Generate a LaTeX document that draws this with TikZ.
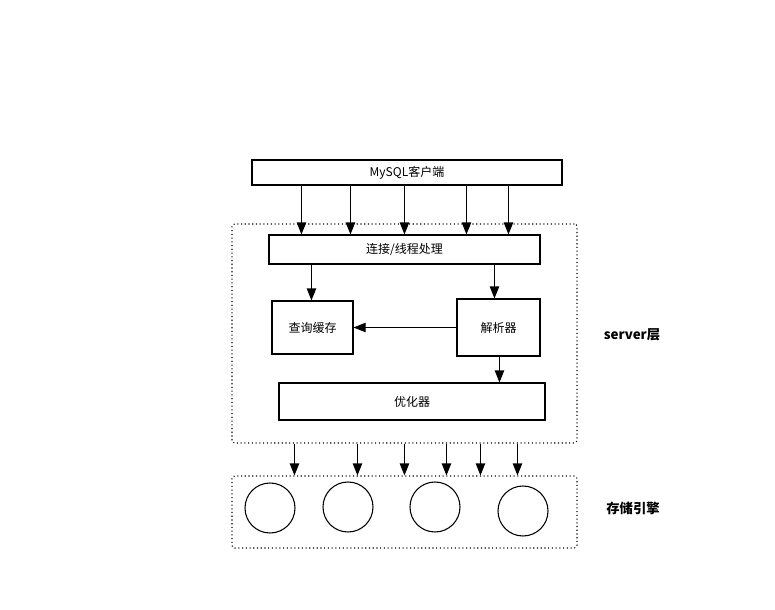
\documentclass[tikz,border=0pt]{standalone}
\usepackage{fontspec}
\setmainfont{Noto Sans CJK SC}
\usetikzlibrary{arrows.meta,positioning,calc}
\tikzset{
  box/.style={draw,thick,minimum height=#1,inner sep=0pt,font=\small},
  zone/.style={draw,thick,dotted,rounded corners=2pt,inner sep=0pt},
  arr/.style={thick,-{Triangle[length=9pt,width=7pt]}},
  layer/.style={font=\bfseries}
}
\begin{document}
\begin{tikzpicture}[x=0.75pt,y=-0.75pt]
\useasboundingbox (0,0) rectangle (775,610);
% server layer
\node[zone,minimum width=345*0.75pt,minimum height=219*0.75pt] (server) at (404.5,333.5) {};
\node[zone,minimum width=345*0.75pt,minimum height=72*0.75pt] (store) at (404.5,512) {};
\node[box=25*0.75pt,minimum width=310*0.75pt] (client) at (407,172.5) {MySQL客户端};
\node[box=29*0.75pt,minimum width=271*0.75pt] (conn) at (404.5,249.5) {连接/线程处理};
\node[box=53*0.75pt,minimum width=81*0.75pt] (cache) at (312.5,327.5) {查询缓存};
\node[box=57*0.75pt,minimum width=83*0.75pt] (parser) at (498.5,327.5) {解析器};
\node[box=37*0.75pt,minimum width=266*0.75pt] (opt) at (412,401.5) {优化器};
\node[layer] (slabel) at (632,335) {server层};
\node[layer] (elabel) at (633,508) {存储引擎};
% engines
\foreach \n/\cx/\cy in {e1/270/508, e2/348/507, e3/435/507, e4/523/511}
  \node[draw,thick,circle,minimum size=50*0.75pt] (\n) at (\cx,\cy) {};
% client -> connection
\foreach \x in {50,99,153,215,257} {
  \coordinate (t) at ($(client.south west)+(\x,0)$);
  \draw[arr] (t) -- (t |- conn.north);
}
\coordinate (t) at ($(conn.south west)+(43,0)$);
\draw[arr] (t) -- (t |- cache.north);
\coordinate (t) at ($(conn.south west)+(226,0)$);
\draw[arr] (t) -- (t |- parser.north);
\draw[arr] (parser.west) -- (cache.east);
\coordinate (t) at ($(parser.south west)+(43,0)$);
\draw[arr] (t) -- (t |- opt.north);
% server -> storage
\foreach \x in {63,126,173,215,249,286} {
  \coordinate (t) at ($(server.south west)+(\x,0)$);
  \draw[arr] (t) -- (t |- store.north);
}
\end{tikzpicture}
\end{document}
